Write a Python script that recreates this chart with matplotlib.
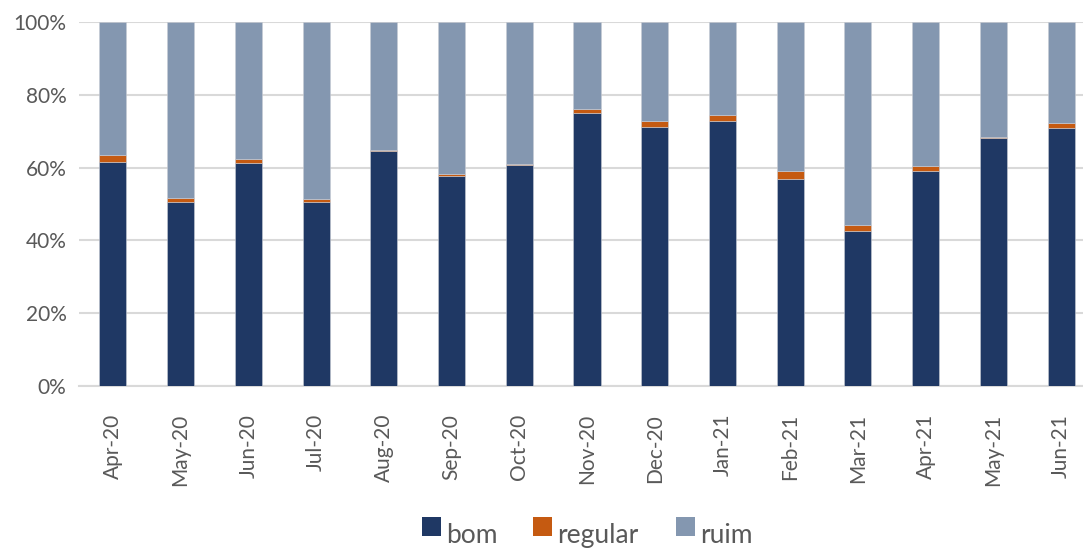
import matplotlib
matplotlib.use("Agg")
from matplotlib import pyplot as plt
from matplotlib.patches import Rectangle
from matplotlib.ticker import PercentFormatter
import numpy as np

months = ["Apr-20", "May-20", "Jun-20", "Jul-20", "Aug-20", "Sep-20", "Oct-20",
          "Nov-20", "Dec-20", "Jan-21", "Feb-21", "Mar-21", "Apr-21", "May-21", "Jun-21"]
bom = [61.6, 50.6, 61.4, 50.6, 64.6, 57.7, 60.7, 74.9, 71.2, 72.8, 56.8, 42.6, 59.2, 68.0, 71.0]
regular = [1.9, 1.0, 1.0, 0.8, 0.3, 0.5, 0.3, 1.1, 1.6, 1.6, 2.3, 1.6, 1.2, 0.4, 1.3]
ruim = [100 - b - r for b, r in zip(bom, regular)]

bom_color = "#1f3864"
regular_color = "#c55a11"
ruim_color = "#8497b0"
grid_color = "#d9d9d9"
text_color = "#595959"

plt.rcParams["font.family"] = ["Lato", "DejaVu Sans"]

W, H = 1083, 550
fig = plt.figure(figsize=(W / 100, H / 100), dpi=100)
ax = fig.add_axes([79 / W, 1 - 386 / H, (1095 - 79) / W, (386 - 22) / H])

x = np.arange(len(months))
w = 0.4
bom_arr = np.array(bom)
reg_arr = np.array(regular)
edge = dict(edgecolor="#c8ccd4", linewidth=0.4, zorder=3)
ax.bar(x, bom_arr, width=w, color=bom_color, **edge)
ax.bar(x, reg_arr, width=w, bottom=bom_arr, color=regular_color, **edge)
ax.bar(x, ruim, width=w, bottom=bom_arr + reg_arr, color=ruim_color, **edge)

ax.set_xlim(-0.5, len(months) - 0.5)
ax.set_ylim(0, 100)
ax.set_yticks(np.arange(0, 101, 20))
ax.yaxis.set_major_formatter(PercentFormatter(decimals=0))
ax.grid(axis="y", color=grid_color, linewidth=1.5, zorder=0)
ax.set_xticks(x)
ax.set_xticklabels(months, rotation=90, fontsize=15, color=text_color)
for lbl in ax.get_yticklabels():
    lbl.set_fontsize(15)
    lbl.set_color(text_color)
ax.tick_params(axis="x", length=0, pad=20)
ax.tick_params(axis="y", length=0, pad=9)
for side in ["top", "right", "left"]:
    ax.spines[side].set_visible(False)
ax.spines["bottom"].set_color(grid_color)
ax.spines["bottom"].set_linewidth(1.5)

# legend drawn by hand: squares sit higher than the text baseline
legend_items = [("bom", bom_color, 422), ("regular", regular_color, 533), ("ruim", ruim_color, 676)]
for name, col, px in legend_items:
    fig.patches.append(Rectangle((px / W, 1 - 536 / H), 19 / W, 19 / H,
                                 transform=fig.transFigure, facecolor=col, edgecolor="none"))
    fig.text((px + 24) / W, 1 - 543 / H, name, fontsize=19, color=text_color,
             ha="left", va="baseline")

fig.savefig("out.png", dpi=100)
